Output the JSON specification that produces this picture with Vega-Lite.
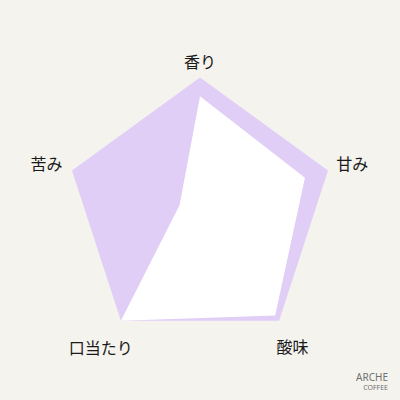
{
  "$schema": "https://vega.github.io/schema/vega-lite/v6.json",
  "width": 400,
  "height": 400,
  "autosize": "none",
  "padding": 0,
  "background": "#f5f3ee",
  "config": {"view": {"stroke": null}},
  "title": {
    "text": "ARCHE",
    "subtitle": "COFFEE",
    "orient": "bottom",
    "anchor": "end",
    "offset": -27,
    "dx": -12,
    "font": "Noto Sans",
    "fontSize": 10,
    "fontWeight": "normal",
    "color": "#707070",
    "subtitleFont": "Noto Sans",
    "subtitleFontSize": 7,
    "subtitleColor": "#707070",
    "subtitlePadding": 1
  },
  "data": {
    "values": [
      {"axis": "香り", "idx": 0, "value": 0.86, "full": 1},
      {"axis": "甘み", "idx": 1, "value": 0.82, "full": 1},
      {"axis": "酸味", "idx": 2, "value": 0.95, "full": 1},
      {"axis": "口当たり", "idx": 3, "value": 1.0, "full": 1},
      {"axis": "苦み", "idx": 4, "value": 0.16, "full": 1}
    ]
  },
  "transform": [
    {"calculate": "datum.idx * 2 * PI / 5", "as": "ang"},
    {"calculate": "datum.full * sin(datum.ang)", "as": "ox"},
    {"calculate": "datum.full * cos(datum.ang)", "as": "oy"},
    {"calculate": "datum.value * sin(datum.ang)", "as": "ix"},
    {"calculate": "datum.value * cos(datum.ang)", "as": "iy"},
    {"calculate": "[1.107, 1.19, 1.17, 1.255, 1.2][datum.idx]", "as": "lr"},
    {"calculate": "datum.lr * sin(datum.ang)", "as": "lx"},
    {"calculate": "datum.lr * cos(datum.ang) - [0, 0.02, 0.067, 0, 0.02][datum.idx]", "as": "ly"}
  ],
  "layer": [
    {
      "mark": {"type": "line", "fill": "#e0cef7", "stroke": "#e0cef7", "strokeWidth": 0, "interpolate": "linear-closed"},
      "encoding": {
        "x": {"field": "ox", "type": "quantitative", "scale": {"domain": [-1.486, 1.486]}, "axis": null},
        "y": {"field": "oy", "type": "quantitative", "scale": {"domain": [-1.397, 1.575]}, "axis": null},
        "order": {"field": "idx"}
      }
    },
    {
      "mark": {"type": "line", "fill": "#ffffff", "stroke": "#ffffff", "strokeWidth": 0, "interpolate": "linear-closed"},
      "encoding": {
        "x": {"field": "ix", "type": "quantitative", "scale": {"domain": [-1.486, 1.486]}, "axis": null},
        "y": {"field": "iy", "type": "quantitative", "scale": {"domain": [-1.397, 1.575]}, "axis": null},
        "order": {"field": "idx"}
      }
    },
    {
      "mark": {"type": "text", "font": "Noto Sans CJK JP", "fontSize": 16, "color": "#1a1a1a", "baseline": "middle", "align": "center"},
      "encoding": {
        "x": {"field": "lx", "type": "quantitative", "scale": {"domain": [-1.486, 1.486]}, "axis": null},
        "y": {"field": "ly", "type": "quantitative", "scale": {"domain": [-1.397, 1.575]}, "axis": null},
        "text": {"field": "axis"}
      }
    }
  ]
}
